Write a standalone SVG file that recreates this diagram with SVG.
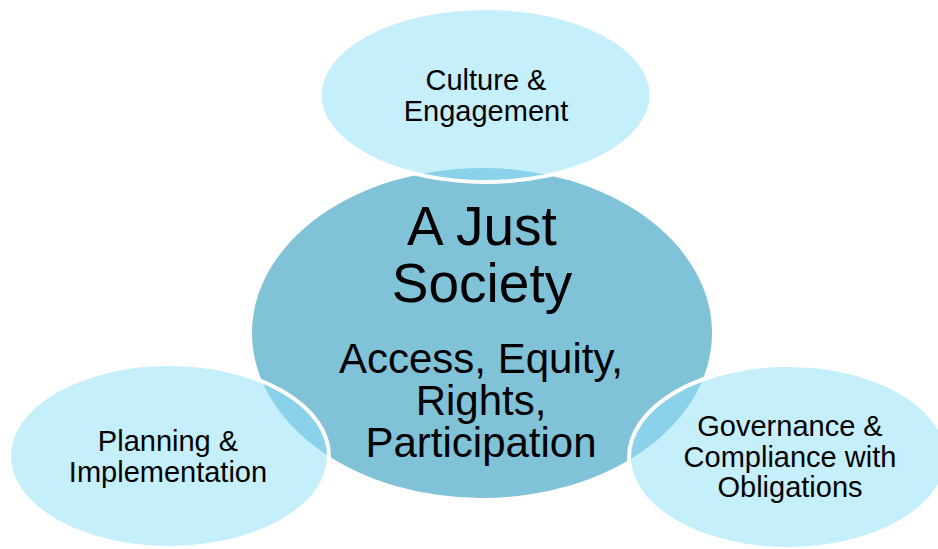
<svg xmlns="http://www.w3.org/2000/svg" width="938" height="549" viewBox="0 0 938 549">
<style>
.core{fill:#80c2d8;}
.sat{fill:rgb(147,225,249);fill-opacity:0.53;stroke:#ffffff;stroke-width:4;}
text{font-family:"Liberation Sans",Arial,sans-serif;fill:#000;text-anchor:middle;}
.s{font-size:29px;}
.t{font-size:55px;}
.m{font-size:42px;}
</style>
<rect width="938" height="549" fill="#ffffff"/>
<g id="center">
<ellipse class="core" cx="482" cy="333" rx="230" ry="165"/>
</g>
<g id="culture">
<ellipse class="sat" cx="485.5" cy="95" rx="166" ry="87"/>
<text class="s" x="486" y="90">Culture &amp;</text>
<text class="s" x="486" y="121">Engagement</text>
</g>
<g id="planning">
<ellipse class="sat" cx="169" cy="456" rx="160" ry="92"/>
<text class="s" x="168" y="451">Planning &amp;</text>
<text class="s" x="168" y="482">Implementation</text>
</g>
<g id="governance">
<ellipse class="sat" cx="788" cy="457" rx="159" ry="92"/>
<text class="s" x="790" y="436">Governance &amp;</text>
<text class="s" x="790" y="467">Compliance with</text>
<text class="s" x="790" y="497">Obligations</text>
</g>
<g id="center-text">
<text class="t" x="482" y="245">A Just</text>
<text class="t" x="482" y="302">Society</text>
<text class="m" x="481" y="373">Access, Equity,</text>
<text class="m" x="481" y="415">Rights,</text>
<text class="m" x="481" y="457">Participation</text>
</g>
<g id="connectors"/>
</svg>
